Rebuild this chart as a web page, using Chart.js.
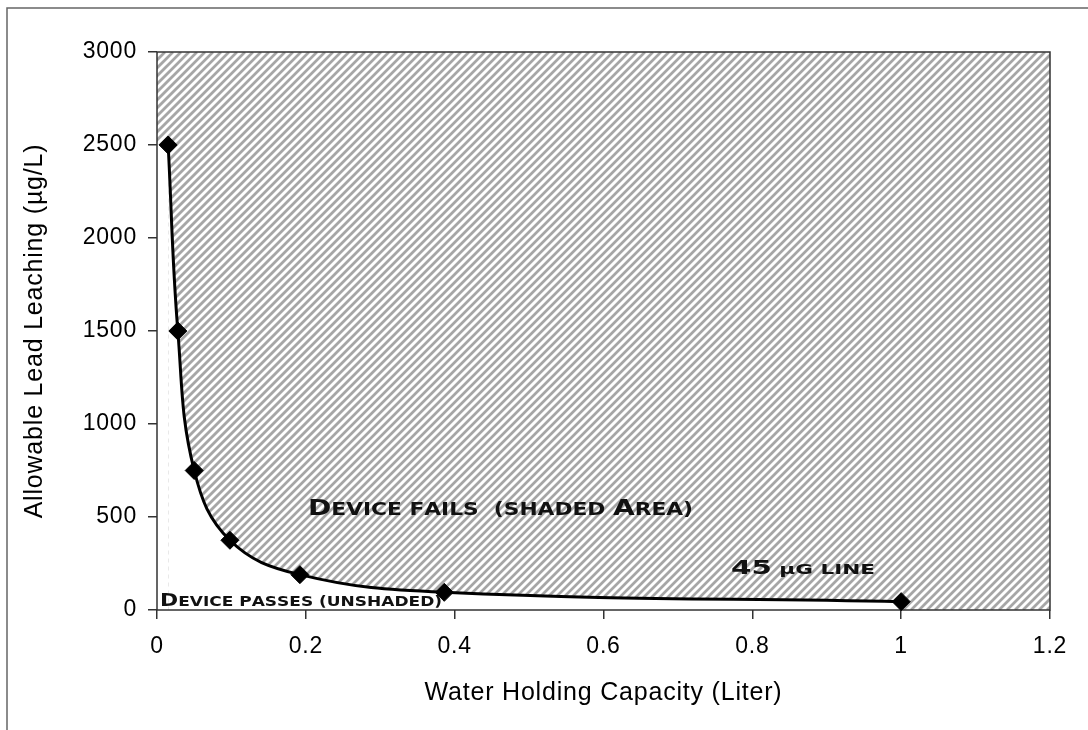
<!DOCTYPE html>
<html>
<head>
<meta charset="utf-8">
<script src="https://cdn.jsdelivr.net/npm/chart.js@4"></script>
<style>
  html, body { margin: 0; padding: 0; background: #fff; }
  #wrap { width: 1088px; height: 730px; }
</style>
</head>
<body>
<div id="wrap"><canvas id="leadChart" width="1088" height="730"></canvas></div>
<script>
// Values
const capacityLiters = [0.015, 0.028, 0.05, 0.098, 0.192, 0.386, 1.0];
const allowableLeaching = [2500, 1500, 750, 375, 190, 95, 45];
const xTickValues = [0, 0.2, 0.4, 0.6, 0.8, 1, 1.2];
const yTickValues = [0, 500, 1000, 1500, 2000, 2500, 3000];
const xAxisTitle = 'Water Holding Capacity (Liter)';
const yAxisTitle = 'Allowable Lead Leaching (µg/L)';
const failLabel = 'Device fails  (shaded Area)';
const passLabel = 'Device passes (unshaded)';
const lineLabel = '45 µg line';

// draws text in a wide small-caps style, stretched to the given width
function drawSmallCaps(ctx, text, x, y, bigPx, smallPx, width) {
    const parts = [...text].map(ch => {
        const big = ch !== ch.toLowerCase() || /[0-9]/.test(ch);
        return { ch: ch === 'µ' ? ch : ch.toUpperCase(), size: big ? bigPx : smallPx };
    });
    ctx.save();
    ctx.letterSpacing = '0px';
    let total = 0;
    parts.forEach(p => {
        ctx.font = 'bold ' + p.size + 'px "DejaVu Sans"';
        p.w = ctx.measureText(p.ch).width;
        total += p.w;
    });
    ctx.translate(x, y);
    ctx.scale(width / total, 1);
    ctx.fillStyle = '#111';
    ctx.textBaseline = 'alphabetic';
    ctx.textAlign = 'left';
    let cx = 0;
    parts.forEach(p => {
        ctx.font = 'bold ' + p.size + 'px "DejaVu Sans"';
        ctx.fillText(p.ch, cx, 0);
        cx += p.w;
    });
    ctx.restore();
}

const hatchPlugin = {
    id: 'hatchArea',
    beforeDraw(chart) {
        chart.ctx.letterSpacing = '0.8px';
    },
    beforeDatasetsDraw(chart) {
        const { ctx, chartArea: a, scales } = chart;
        ctx.save();
        ctx.beginPath();
        ctx.rect(a.left, a.top, a.width, a.height);
        ctx.clip();
        ctx.fillStyle = '#fff';
        ctx.fillRect(a.left, a.top, a.width, a.height);
        ctx.strokeStyle = '#a6a6a6';
        ctx.lineWidth = 2.7;
        const h = a.height;
        for (let k = -h; k < a.width + 8; k += 8) {
            ctx.beginPath();
            ctx.moveTo(a.left + k, a.bottom);
            ctx.lineTo(a.left + k + h, a.top);
            ctx.stroke();
        }
        // unshaded strip left of the first point
        const x0 = scales.x.getPixelForValue(capacityLiters[0]);
        const y0 = scales.y.getPixelForValue(allowableLeaching[0]);
        ctx.fillStyle = '#fff';
        ctx.fillRect(a.left, y0, x0 - a.left, a.bottom - y0);
        ctx.restore();
    },
    beforeDatasetDraw(chart) {
        // plot frame, after the white fill and before the curve
        const { ctx, chartArea: a } = chart;
        ctx.save();
        ctx.strokeStyle = '#333';
        ctx.lineWidth = 1.5;
        ctx.strokeRect(a.left, a.top, a.width, a.height);
        ctx.restore();
    },
    afterDatasetsDraw(chart) {
        const { ctx } = chart;
        drawSmallCaps(ctx, failLabel, 308, 515, 22, 17, 385);
        drawSmallCaps(ctx, passLabel, 160, 606, 18, 14, 282);
        drawSmallCaps(ctx, lineLabel, 731, 574, 19, 14, 144);
    },
    afterDraw(chart) {
        const { ctx } = chart;
        ctx.save();
        ctx.strokeStyle = '#666';
        ctx.lineWidth = 1.5;
        ctx.beginPath();
        ctx.moveTo(7, 730);
        ctx.lineTo(7, 8);
        ctx.lineTo(1088, 8);
        ctx.stroke();
        ctx.restore();
    }
};

const ctx = document.getElementById('leadChart').getContext('2d');
const leadChart = new Chart(ctx, {
    type: 'scatter',
    data: {
        datasets: [{
            label: 'Allowable lead leaching',
            data: capacityLiters.map((x, i) => ({ x: x, y: allowableLeaching[i] })),
            showLine: true,
            tension: 0.4,
            borderColor: '#000',
            borderWidth: 3,
            backgroundColor: '#fff',
            fill: 'start',
            pointStyle: 'rectRot',
            pointRadius: 9,
            pointBackgroundColor: '#000',
            pointBorderColor: '#000',
            pointBorderWidth: 1,
            clip: false
        }]
    },
    options: {
        responsive: false,
        animation: false,
        layout: { padding: { left: 20, top: 52, right: 38, bottom: 18 } },
        plugins: {
            legend: { display: false },
            tooltip: { enabled: false }
        },
        scales: {
            x: {
                type: 'linear',
                min: 0,
                max: 1.2,
                afterBuildTicks: s => { s.ticks = xTickValues.map(v => ({ value: v })); },
                afterFit: s => { s.height = 102; },
                border: { display: false },
                grid: { drawOnChartArea: false, drawTicks: true, tickLength: 9, color: '#333', lineWidth: 1.5 },
                ticks: {
                    color: '#000',
                    padding: 14,
                    maxRotation: 0,
                    callback: v => String(v),
                    font: { family: '"Liberation Sans", Arial, sans-serif', size: 23 }
                },
                title: {
                    display: true,
                    text: xAxisTitle,
                    color: '#000',
                    padding: { top: 0, bottom: 4 },
                    font: { family: '"Liberation Sans", Arial, sans-serif', size: 25 }
                }
            },
            y: {
                type: 'linear',
                min: 0,
                max: 3000,
                afterBuildTicks: s => { s.ticks = yTickValues.map(v => ({ value: v })); },
                afterFit: s => { s.width = 137; },
                border: { display: false },
                grid: { drawOnChartArea: false, drawTicks: true, tickLength: 9, color: '#333', lineWidth: 1.5 },
                ticks: {
                    color: '#000',
                    padding: 11,
                    callback: v => String(v),
                    font: { family: '"Liberation Sans", Arial, sans-serif', size: 23 }
                },
                title: {
                    display: true,
                    text: yAxisTitle,
                    color: '#000',
                    padding: { top: 0, bottom: 0 },
                    font: { family: '"Liberation Sans", Arial, sans-serif', size: 25 }
                }
            }
        }
    },
    plugins: [hatchPlugin]
});
</script>
</body>
</html>
